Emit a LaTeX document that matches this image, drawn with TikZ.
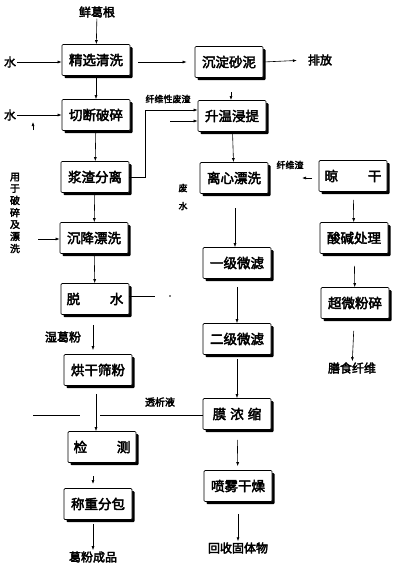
\documentclass[tikz,border=0pt]{standalone}
\usepackage{fontspec}
\newfontfamily\cjk[FakeBold=3]{Noto Sans CJK SC}
\usetikzlibrary{arrows.meta,shadows}
\begin{document}
\begin{tikzpicture}[x=1pt,y=-1pt,
  box/.style={draw, line width=0.7pt, rounded corners=1pt, minimum width=68pt, minimum height=31pt, inner sep=1pt,
    font=\cjk\fontsize{13.5}{14}\selectfont, fill=white,
    general shadow={fill=black, shadow xshift=2.6pt, shadow yshift=-2.6pt}},
  lbl/.style={font=\cjk\fontsize{12}{13}\selectfont, inner sep=1pt},
  slbl/.style={font=\cjk\fontsize{9}{10}\selectfont, inner sep=1pt},
  arr/.style={draw, line width=0.6pt, -{Latex[length=4pt,width=3pt]}},
  ln/.style={draw, line width=0.6pt}]
\useasboundingbox (0,0) rectangle (400,568);
% boxes
\node[box] (jx) at (96,60) {精选清洗};
\node[box] (cd) at (229,62) {沉淀砂泥};
\node[box] (qd) at (96,115) {切断破碎};
\node[box] (sw) at (232,116) {升温浸提};
\node[box] (jz) at (95,177) {浆渣分离};
\node[box] (lx) at (234,178) {离心漂洗};
\node[box] (lg) at (353,176) {晾\hspace{2.2em}干};
\node[box] (cj) at (94,238) {沉降漂洗};
\node[box] (sj) at (354,238) {酸碱处理};
\node[box] (yj) at (237,263) {一级微滤};
\node[box] (ts) at (95,299) {脱\hspace{2.2em}水};
\node[box] (cw) at (355,303) {超微粉碎};
\node[box] (ej) at (237,339) {二级微滤};
\node[box] (hg) at (98,370) {烘干筛粉};
\node[box] (mn) at (237,414) {膜\hspace{0.3em}浓\hspace{0.3em}缩};
\node[box] (jc) at (102,447) {检\hspace{2.2em}测};
\node[box] (pw) at (238,486) {喷雾干燥};
\node[box] (cz) at (98,504) {称重分包};
% texts
\node[lbl] (xgg) at (97,12) {鲜葛根};
\node[lbl] (w1) at (10,62) {水};
\node[lbl] (w2) at (10,115) {水};
\node[lbl] (pf) at (320,60) {排放};
\node[slbl] (xwz) at (168,99) {纤维性废渣};
\node[slbl, align=center] (fs) at (183,197) {废\\[8pt]水};
\node[inner sep=0pt, font=\cjk\fontsize{10}{10.6}\selectfont] (yy) at (15,213) {\shortstack{用\\于\\破\\碎\\及\\漂\\洗}};
\node[slbl] (xwz2) at (290,165) {纤维渣};
\node[lbl] (sgf) at (63,337) {湿葛粉};
\node[lbl] (sxw) at (352,368) {膳食纤维};
\node[slbl, font=\cjk\fontsize{10}{11}\selectfont] (txy) at (160,402) {透析液};
\node[lbl] (gfc) at (93,557) {葛粉成品};
\node[lbl] (hsg) at (238,548) {回收固体物};
% coordinates
\coordinate (a1) at (145,177);
\coordinate (a2) at (145,110);
\coordinate (b1) at (170,121);
\coordinate (c1) at (231,92);
\coordinate (c2) at (231,100);
\coordinate (d1) at (38,239);
\coordinate (e1) at (312,178);
\coordinate (e2) at (302,178);
\coordinate (f1) at (155,296);
\coordinate (g1) at (33,415);
\coordinate (g2) at (80,415);
\coordinate (g3) at (100,415);
\coordinate (h1) at (33,130);
\coordinate (h2) at (33,122);
\coordinate (k1) at (93,476);
\coordinate (k2) at (93,484);
\coordinate (m1) at (235,208);
% connectors
\draw[arr] (xgg) -- (jx);
\draw[arr] (w1) -- (jx.west|-w1);
\draw[arr, shorten <=8pt, shorten >=8pt] (jx.east|-cd) -- (cd.west);
\draw[arr, shorten >=10pt] (cd.east) -- (pf.west);
\draw[arr] (jx) -- (qd);
\draw[arr] (w2) -- (qd.west|-w2);
\draw[arr] (h1) -- (h2);
\draw[arr] (qd) -- (jz);
\draw[arr] (jz.east|-a1) -- (a1) -- (a2) -- (sw.west|-a2);
\draw[arr] (b1) -- (sw.west|-b1);
\draw[arr] (c1) -- (c2);
\draw[arr] (sw) -- (lx);
\draw[arr] (jz) -- (cj);
\draw[arr] (d1) -- (cj.west|-d1);
\draw[arr] (e1) -- (e2);
\draw[arr] (m1) -- (yj.north-|m1);
\draw[arr, shorten <=8pt] (lg) -- (sj);
\draw[arr, shorten <=12pt] (sj) -- (cw);
\draw[arr, shorten <=12pt] (cw) -- (sxw);
\draw[arr] (cj) -- (ts);
\draw[ln] (ts.east|-f1) -- (f1);
\fill (170,296) circle (0.8pt);
\draw[arr, shorten <=8pt] (yj) -- (ej);
\draw[arr, shorten <=4pt] (ej) -- (mn);
\draw[arr, shorten <=10pt, shorten >=4pt] (ts.south-|93,0) -- (hg.north-|93,0);
\draw[arr, shorten <=8pt] (hg.south-|96,0) -- (jc.north-|96,0);
\draw[ln] (g1) -- (g2);
\draw[ln] (g3) -- (mn.west|-g3);
\draw[arr] (k1) -- (k2);
\draw[arr, shorten <=4pt] (cz.south-|93,0) -- (gfc.north-|93,0);
\draw[arr, shorten <=10pt, shorten >=4pt] (mn) -- (pw);
\draw[arr, shorten <=12pt] (pw) -- (hsg);
\end{tikzpicture}
\end{document}
